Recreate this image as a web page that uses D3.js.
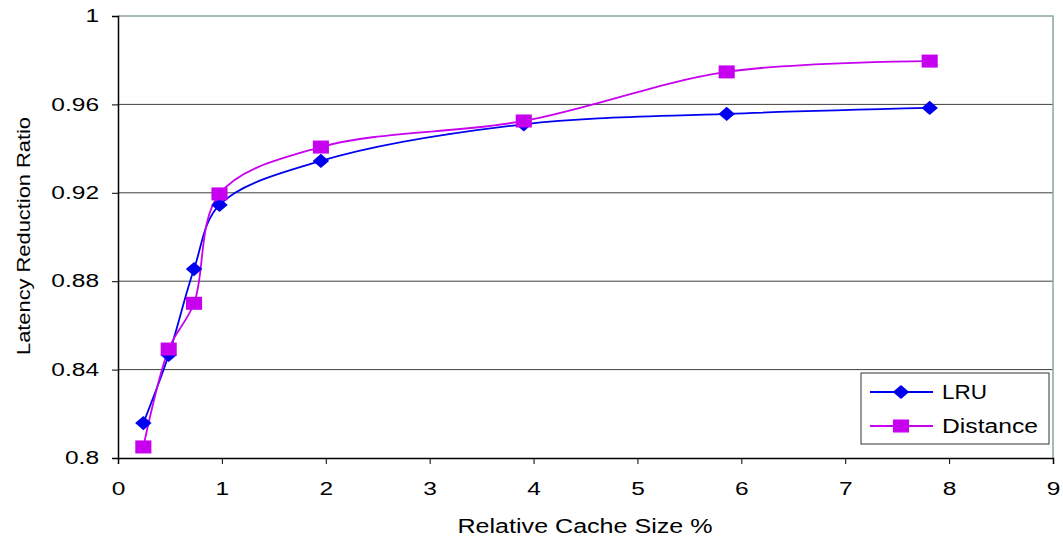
<!DOCTYPE html>
<html>
<head>
<meta charset="utf-8">
<script src="https://cdn.jsdelivr.net/npm/d3@7"></script>
<style>
  body { margin: 0; background: #fff; }
  text { font-family: "Liberation Sans", Arial, sans-serif; fill: #000; }
</style>
</head>
<body>
<div id="container"></div>
<script>
/* DATA */
const cacheSize = [0.244, 0.488, 0.732, 0.977, 1.953, 3.906, 5.859, 7.813];
const lruValues = [0.8158, 0.8466, 0.8855, 0.9145, 0.9344, 0.9510, 0.9557, 0.9584];
const distanceValues = [0.8050, 0.8493, 0.8700, 0.9195, 0.9407, 0.9525, 0.9747, 0.9796];
const xTicks = [0, 1, 2, 3, 4, 5, 6, 7, 8, 9];
const yTicks = [0.8, 0.84, 0.88, 0.92, 0.96, 1];
const seriesNames = ["LRU", "Distance"];

/* CONSTANTS */
const width = 1063,
  height = 539,
  margin = { top: 16, bottom: 81, left: 118, right: 10 },
  stretch = 1.36; // text in the original is drawn wide

const svg = d3.select("#container")
  .append("svg")
  .attr("width", width)
  .attr("height", height);

const x = d3.scaleLinear().domain([0, 9]).range([margin.left, width - margin.right]);
const y = d3.scaleLinear().domain([0.8, 1]).range([height - margin.bottom, margin.top]);

// gridlines
svg.selectAll("line.grid")
  .data(yTicks.slice(1, -1))
  .join("line")
  .attr("class", "grid")
  .attr("x1", x(0)).attr("x2", x(9))
  .attr("y1", d => y(d)).attr("y2", d => y(d))
  .attr("stroke", "#404040")
  .attr("stroke-width", 1);

// plot frame top + right
svg.append("path")
  .attr("d", `M${x(0)},${y(1)}H${x(9)}V${y(0.8)}`)
  .attr("fill", "none")
  .attr("stroke", "#8fa3a3")
  .attr("stroke-width", 1.5);

// axes
const xAxis = d3.axisBottom(x).tickValues(xTicks).tickSize(6).tickPadding(18).tickFormat(d3.format("d"));
const yAxis = d3.axisLeft(y).tickValues(yTicks).tickSize(6).tickPadding(13)
  .tickFormat(d => d === 1 || d === 0.8 ? String(d) : d3.format(".2f")(d));

const gx = svg.append("g")
  .attr("transform", `translate(0,${y(0.8)})`)
  .call(xAxis);
const gy = svg.append("g")
  .attr("transform", `translate(${x(0)},0)`)
  .call(yAxis);

[gx, gy].forEach(g => {
  g.select(".domain").attr("stroke", "#000").attr("stroke-width", 1.5);
  g.selectAll(".tick line").attr("stroke", "#000");
  g.selectAll(".tick text")
    .style("font-family", "Liberation Sans, Arial, sans-serif")
    .style("font-size", "18px")
    .attr("fill", "#000")
    .each(function () {
      const w = this.getComputedTextLength();
      d3.select(this).attr("textLength", w * stretch).attr("lengthAdjust", "spacingAndGlyphs");
    });
});

// lines
const lineGen = d3.line()
  .x(d => x(d[0]))
  .y(d => y(d[1]))
  .curve(d3.curveCatmullRom.alpha(0.5));

const series = [
  { name: seriesNames[0], values: lruValues, color: "#0000f0", shape: d3.symbolSquare, size: 112, tf: " scale(1.1,0.95) rotate(45)" },
  { name: seriesNames[1], values: distanceValues, color: "#c800f0", shape: d3.symbolSquare, size: 196, tf: " scale(1.15,0.93)" }
];

series.forEach(s => {
  const pts = cacheSize.map((c, i) => [c, s.values[i]]);
  svg.append("path")
    .datum(pts)
    .attr("d", lineGen)
    .attr("fill", "none")
    .attr("stroke", s.color)
    .attr("stroke-width", 1.8);
});

series.forEach(s => {
  const pts = cacheSize.map((c, i) => [c, s.values[i]]);
  svg.selectAll(null)
    .data(pts)
    .join("path")
    .attr("d", d3.symbol().type(s.shape).size(s.size))
    .attr("transform", d => `translate(${x(d[0])},${y(d[1])})` + s.tf)
    .attr("fill", s.color);
});

// legend
const legend = svg.append("g").attr("transform", "translate(861,373)");
legend.append("rect")
  .attr("width", 188).attr("height", 71)
  .attr("fill", "#fff")
  .attr("stroke", "#333")
  .attr("stroke-width", 1);
series.forEach((s, i) => {
  const ly = 19 + i * 34;
  legend.append("line")
    .attr("x1", 9).attr("x2", 72)
    .attr("y1", ly).attr("y2", ly)
    .attr("stroke", s.color).attr("stroke-width", 1.8);
  legend.append("path")
    .attr("d", d3.symbol().type(s.shape).size(s.size))
    .attr("transform", `translate(40,${ly})` + s.tf)
    .attr("fill", s.color);
  legend.append("text")
    .attr("x", 81).attr("y", ly + 7)
    .style("font-size", "20px")
    .attr("textLength", i === 0 ? 45 : 96)
    .attr("lengthAdjust", "spacingAndGlyphs")
    .text(s.name);
});

// axis titles
svg.append("text")
  .attr("x", 585)
  .attr("y", 533)
  .attr("text-anchor", "middle")
  .style("font-size", "20px")
  .attr("textLength", 255)
  .attr("lengthAdjust", "spacingAndGlyphs")
  .text("Relative Cache Size %");

svg.append("text")
  .attr("transform", `translate(30,236) rotate(-90)`)
  .attr("text-anchor", "middle")
  .style("font-size", "18px")
  .attr("textLength", 238)
  .attr("lengthAdjust", "spacingAndGlyphs")
  .text("Latency Reduction Ratio");
</script>
</body>
</html>
